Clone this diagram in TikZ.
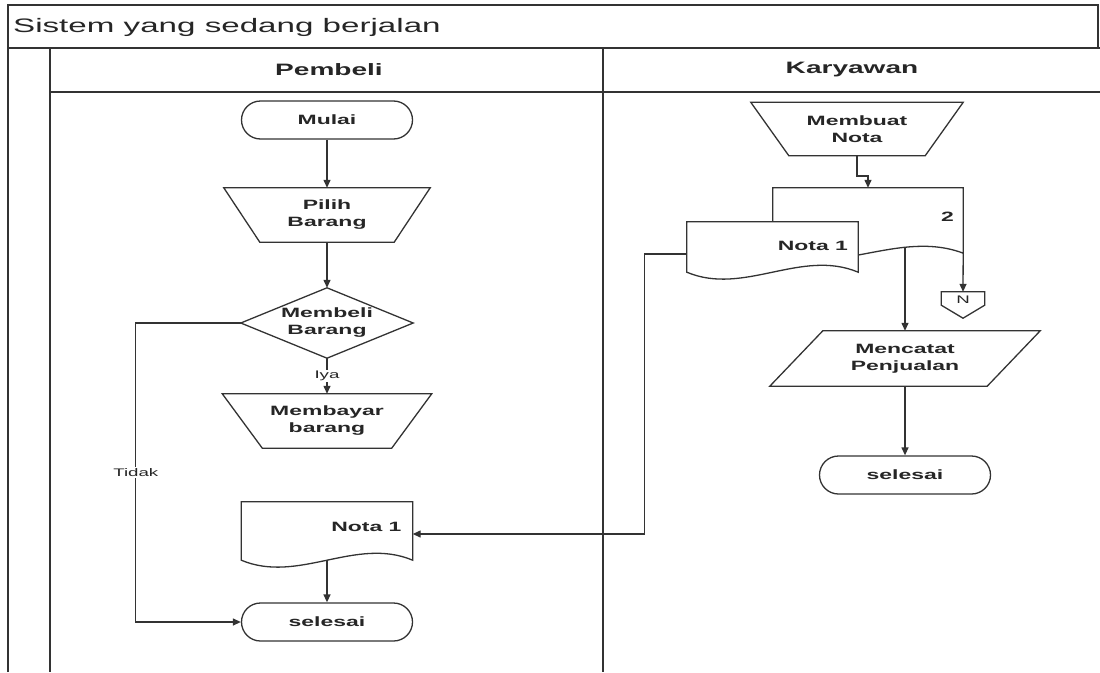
\documentclass[tikz,border=0pt]{standalone}
\usepackage{fontspec}
\setmainfont{Liberation Sans}[FakeStretch=1.7]
\usetikzlibrary{arrows.meta}
\usetikzlibrary{positioning, calc, backgrounds}

% document symbol: box with a wavy bottom
\newcommand{\docshape}[1]{%
  \filldraw[flow, fill=white] (#1.south west) -- (#1.north west) -- (#1.north east) -- (#1.south east)
    .. controls ($(#1.south east)!0.333!(#1.south west)+(0pt,24pt)$) and ($(#1.south east)!0.667!(#1.south west)+(0pt,-24pt)$) .. (#1.south west) -- cycle;}
% manual operation: wide on top, narrow at the bottom
\newcommand{\manopshape}[2]{%
  \draw[flow] (#1.north west) -- (#1.north east) -- ([xshift=-#2]#1.south east) -- ([xshift=#2]#1.south west) -- cycle;}
% input/output: parallelogram
\newcommand{\slantshape}[2]{%
  \draw[flow] (#1.south west) -- ([xshift=#2]#1.north west) -- (#1.north east) -- ([xshift=-#2]#1.south east) -- cycle;}
% decision: diamond
\newcommand{\decisionshape}[1]{%
  \draw[flow] (#1.north) -- (#1.east) -- (#1.south) -- (#1.west) -- cycle;}

\begin{document}
\begin{tikzpicture}[
        x=1pt, y=-1pt,
        on grid,
        >={Triangle[length=8pt,width=7pt]},
        every node/.style={text=black!85},
        flow/.style={draw=black!80, line width=1.3pt},
        frame/.style={draw=black!80, line width=1.5pt},
        lbl/.style={font=\fontsize{13.5}{17}\selectfont\bfseries, align=center, inner sep=1pt},
        term/.style={lbl, flow, rounded corners=19pt, minimum width=171pt, minimum height=38pt},
        manop/.style={lbl, minimum width=209pt, minimum height=54pt},
        decision/.style={lbl, minimum width=172pt, minimum height=70pt},
        inputbox/.style={lbl, minimum width=270pt, minimum height=55pt},
        docbox/.style={inner sep=0pt},
        small/.style={font=\fontsize{11}{13}\selectfont, inner sep=1pt}
    ]
    \useasboundingbox (0,0) rectangle (1100,672);

    % Swimlane frame
    \draw[frame] (8,672) -- (8,5) -- (1098,5) -- (1098,48);
    \draw[frame] (8,48) -- (1100,48);
    \draw[frame] (50,48) -- (50,672);
    \draw[frame] (50,92) -- (1100,92);
    \draw[frame] (603,48) -- (603,672);

    % Titles
    \node[anchor=west, inner sep=0pt, font=\fontsize{19.5}{23}\selectfont] (judul) at (13,27) {Sistem yang sedang berjalan};
    \node[font=\fontsize{16.5}{20}\selectfont\bfseries] (pembeli) at (329,70) {Pembeli};
    \node[font=\fontsize{16.5}{20}\selectfont\bfseries] (karyawan) at (852,70) {Karyawan};

    % Pembeli lane
    \node[term] (mulai) at (327,120) {Mulai};
    \node[manop, minimum width=206pt, below=95pt of mulai] (pilih) {Pilih\\Barang};
    \node[decision, below=108pt of pilih] (beli) {Membeli\\Barang};
    \node[manop, below=98pt of beli] (bayar) {Membayar\\barang};
    \node[docbox, minimum width=171pt, minimum height=58pt, below=110pt of bayar] (notaP) {};
    \node[term, below=91pt of notaP] (selesaiP) {selesai};
    \node[lbl, anchor=east] (notaPtxt) at ([xshift=-10pt, yshift=-25pt]notaP.north east) {Nota 1};

    % Karyawan lane
    \node[manop, minimum width=212pt, minimum height=53pt] (membuat) at (857,129) {Membuat\\Nota};
    \node[docbox, minimum width=190pt, minimum height=65pt, below right=91.5pt and 11pt of membuat] (docB) {};
    \node[docbox, minimum width=171pt, minimum height=50pt, below left=118pt and 84.5pt of membuat] (notaK) {};
    \node[lbl, anchor=east] (duaTxt) at ([xshift=-8pt, yshift=-29pt]docB.north east) {2};
    \node[lbl, anchor=east] (notaKtxt) at ([xshift=-9pt, yshift=-24pt]notaK.north east) {Nota 1};
    \node[small, inner sep=0pt, minimum width=43pt, minimum height=16pt] (offN) at (963,300) {N};
    \node[inputbox] (mencatat) at (905,358.5) {Mencatat\\Penjualan};
    \node[term, below=116.5pt of mencatat] (selesaiK) {selesai};

    % Outlines of the symbols
    \manopshape{pilih}{36pt}
    \manopshape{bayar}{40pt}
    \manopshape{membuat}{38pt}
    \decisionshape{beli}
    \slantshape{mencatat}{53pt}
    \begin{scope}[on background layer]
        \docshape{docB}
        \docshape{notaK}
        \docshape{notaP}
    \end{scope}

    % Off-page connector
    \draw[flow] (offN.north west) -- (offN.north east) -- ([yshift=3pt]offN.south east)
        -- ([yshift=-10pt]offN.south) -- ([yshift=3pt]offN.south west) -- cycle;

    % Flow Pembeli
    \draw[flow,->] (mulai) -- (pilih);
    \draw[flow,->] (pilih) -- (beli);
    \draw[flow,->] (beli) -- (bayar) node[small, midway, fill=white] {Iya};
    \draw[flow,->] (beli.west) -- ++(-105,0) |- (selesaiP.west)
        node[small, pos=0.25, fill=white] {Tidak};
    \draw[flow,->] (notaP.south) -- (selesaiP);

    % Flow Karyawan
    \draw[flow,->] (membuat) -- ++(0,47) -| (docB.north);
    \draw[flow,->] (docB.south east) -- (offN.north);
    \draw[flow,->] ($(mencatat |- docB.south)+(0pt,6pt)$) -- (mencatat);
    \draw[flow,->] (mencatat) -- (selesaiK);
    \draw[flow,->] ([yshift=-7pt]notaK.west) -- ++(-42,0) |- ([yshift=-3pt]notaP.east);

\end{tikzpicture}
\end{document}
